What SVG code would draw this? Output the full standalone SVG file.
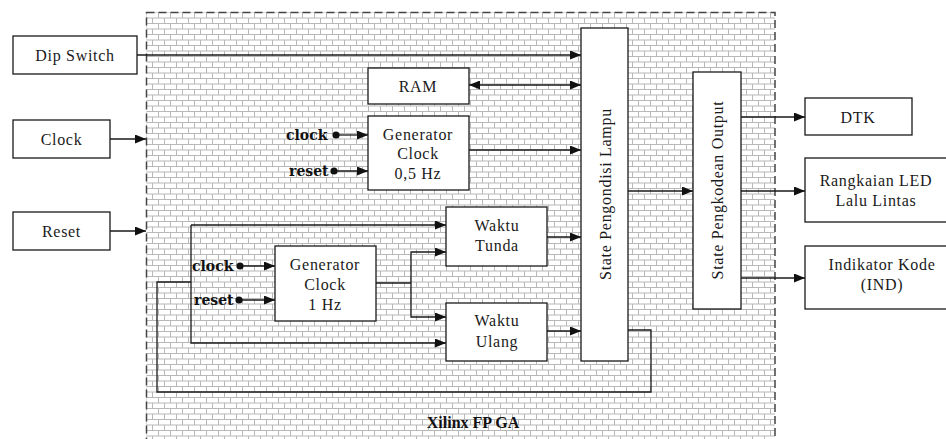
<svg xmlns="http://www.w3.org/2000/svg" width="946" height="439" viewBox="0 0 946 439">
<style>
  .box { fill: #fff; stroke: #1a1a1a; stroke-width: 1.3; }
  .t { font-family: "Liberation Serif", "Times New Roman", serif; font-size: 16px; letter-spacing: 0.7px; fill: #1a1a1a; text-anchor: middle; dominant-baseline: central; }
  .b { font-family: "DejaVu Serif", "Liberation Serif", serif; font-size: 14px; font-weight: bold; fill: #111; dominant-baseline: central; }
  .w { fill: none; stroke: #1a1a1a; stroke-width: 1.3; }
  .a { marker-end: url(#arr); }
</style>
<defs>
  <pattern id="brick" patternUnits="userSpaceOnUse" x="146" y="12" width="12" height="11">
    <rect width="12" height="11" fill="#fff"/>
    <path d="M0,0.5 H12 M0,6 H12 M0.5,0 V6 M6.5,6 V11" stroke="#b8b8b8" stroke-width="1" fill="none"/>
  </pattern>
  <marker id="arr" viewBox="0 0 11 9" refX="11" refY="4.5" markerWidth="11" markerHeight="9" markerUnits="userSpaceOnUse" orient="auto-start-reverse">
    <path d="M0,0 L11,4.5 L0,9 Z" fill="#111"/>
  </marker>
</defs>
<rect width="946" height="439" fill="#fff"/>
<g id="fpga">
  <rect x="146.5" y="12.5" width="628.5" height="440" fill="url(#brick)" stroke="#444" stroke-width="1.5" stroke-dasharray="8,4"/>
  <text x="473" y="422" text-anchor="middle" dominant-baseline="central" font-family="'Liberation Serif', 'Times New Roman', serif" font-size="16" font-weight="bold" fill="#111">Xilinx FP GA</text>
</g>
<g id="connectors">
  <path class="w a" d="M137,55 H581"/>
  <path class="w a" d="M110,139 H146"/>
  <path class="w a" d="M110,231 H146"/>
  <path class="w" d="M469,85 H581" marker-start="url(#arr)" marker-end="url(#arr)"/>
  <path class="w a" d="M336,135 H368"/>
  <path class="w a" d="M334,171 H368"/>
  <path class="w a" d="M469,150 H581"/>
  <path class="w a" d="M240,266 H275"/>
  <path class="w a" d="M239,300 H275"/>
  <path class="w a" d="M191,225 H446"/>
  <path class="w a" d="M191,225 V343 H446"/>
  <path class="w" d="M376,283 H411"/>
  <path class="w a" d="M411,283 V252 H446"/>
  <path class="w a" d="M411,283 V317 H446"/>
  <path class="w a" d="M547,237 H581"/>
  <path class="w a" d="M547,331 H581"/>
  <path class="w" d="M628,330 H651 V392 H157 V282 H191"/>
  <path class="w a" d="M628,191 H693"/>
  <path class="w a" d="M741,117 H805"/>
  <path class="w a" d="M741,191 H805"/>
  <path class="w a" d="M741,278 H805"/>
  <circle cx="336" cy="135" r="3.6" fill="#111"/>
  <circle cx="334" cy="171" r="3.6" fill="#111"/>
  <circle cx="240" cy="266" r="3.6" fill="#111"/>
  <circle cx="239" cy="300" r="3.6" fill="#111"/>
</g>
<g id="dip-switch">
  <rect class="box" x="13" y="36" width="124" height="38"/>
  <text class="t" x="75" y="55">Dip Switch</text>
</g>
<g id="clock">
  <rect class="box" x="13" y="120" width="97" height="38"/>
  <text class="t" x="61.5" y="139">Clock</text>
</g>
<g id="reset">
  <rect class="box" x="13" y="212" width="97" height="38"/>
  <text class="t" x="61.5" y="231">Reset</text>
</g>
<g id="ram">
  <rect class="box" x="368" y="68" width="101" height="36"/>
  <text class="t" x="418" y="86">RAM</text>
</g>
<g id="gen-05hz">
  <rect class="box" x="368" y="116" width="101" height="74"/>
  <text class="t" x="418" y="134">Generator</text>
  <text class="t" x="418" y="153">Clock</text>
  <text class="t" x="418" y="173">0,5 Hz</text>
  <text class="b" x="286" y="135">clock</text>
  <text class="b" x="289" y="171">reset</text>
</g>
<g id="gen-1hz">
  <rect class="box" x="275" y="246" width="101" height="75"/>
  <text class="t" x="325" y="264">Generator</text>
  <text class="t" x="325" y="284">Clock</text>
  <text class="t" x="325" y="304">1 Hz</text>
  <text class="b" x="192" y="266">clock</text>
  <text class="b" x="194" y="300">reset</text>
</g>
<g id="waktu-tunda">
  <rect class="box" x="446" y="207" width="101" height="59"/>
  <text class="t" x="497" y="225">Waktu</text>
  <text class="t" x="497" y="245">Tunda</text>
</g>
<g id="waktu-ulang">
  <rect class="box" x="446" y="303" width="101" height="58"/>
  <text class="t" x="497" y="320">Waktu</text>
  <text class="t" x="497" y="341">Ulang</text>
</g>
<g id="state-pengondisi">
  <rect class="box" x="581" y="28" width="47" height="333"/>
  <text class="t" transform="translate(605,194) rotate(-90)">State Pengondisi Lampu</text>
</g>
<g id="state-pengkodean">
  <rect class="box" x="693" y="72" width="48" height="237"/>
  <text class="t" transform="translate(717,190) rotate(-90)">State Pengkodean Output</text>
</g>
<g id="dtk">
  <rect class="box" x="805" y="98" width="107" height="37"/>
  <text class="t" x="858" y="117">DTK</text>
</g>
<g id="led">
  <rect class="box" x="805" y="158" width="143" height="64"/>
  <text class="t" x="876" y="180">Rangkaian LED</text>
  <text class="t" x="876" y="200">Lalu Lintas</text>
</g>
<g id="indikator">
  <rect class="box" x="805" y="246" width="143" height="63"/>
  <text class="t" x="882" y="264">Indikator Kode</text>
  <text class="t" x="882" y="284">(IND)</text>
</g>
</svg>
